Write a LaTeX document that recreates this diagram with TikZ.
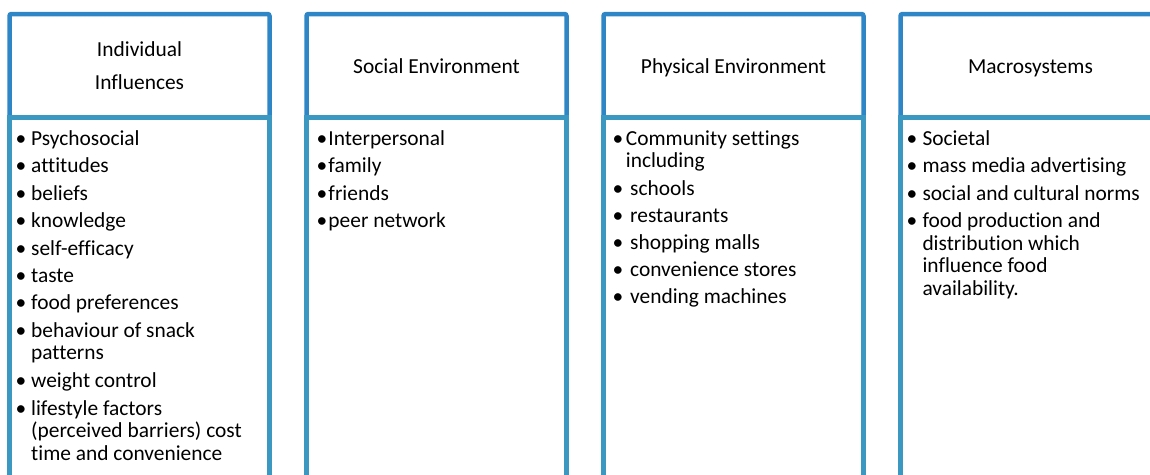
\documentclass[tikz,border=0pt]{standalone}
\usepackage{fontspec}
\setmainfont{Carlito}[Ligatures=NoCommon]
\newcommand\bul[1]{\llap{\makebox[0pt]{\textbullet}\hspace{#1}}}
\begin{document}
\begin{tikzpicture}[x=1pt,y=-1pt,
  hdbox/.style={draw=hdblue,fill=white,line width=4.5pt,rounded corners=2pt,
    minimum width=260pt,minimum height=103.5pt,inner sep=0pt,outer sep=0pt,
    align=center,font=\fontsize{21.4}{32.6}\selectfont,text height=15pt,text depth=0pt},
  bodyline/.style={draw=bdblue,line width=4.5pt},
  item/.style={anchor=base west,inner sep=0pt,align=left,
    font=\fontsize{21.4}{22.6}\selectfont}]
  \definecolor{hdblue}{HTML}{2E86C6}
  \definecolor{bdblue}{HTML}{3A98C1}
  \useasboundingbox (0,0) rectangle (1150,474);
  \clip (0,0) rectangle (1150,474);
  % headers
  \node [hdbox,text height=47.1pt] (ind) at (139.5,65.75) {Individual\\Influences};
  \node [hdbox] (soc) at (436.5,65.75) {Social Environment};
  \node [hdbox] (phy) at (733.5,65.75) {Physical Environment};
  \node [hdbox] (mac) at (1030.5,65.75) {Macrosystems};
  % bodies
  \draw [bodyline] (ind.south west) ++(0,380) -- (ind.south west) -- (ind.south east) -- ++(0,380);
  \draw [bodyline] (soc.south west) ++(0,380) -- (soc.south west) -- (soc.south east) -- ++(0,380);
  \draw [bodyline] (phy.south west) ++(0,380) -- (phy.south west) -- (phy.south east) -- ++(0,380);
  \draw [bodyline] (mac.south west) ++(0,380) -- (mac.south west) -- (mac.south east) -- ++(0,380);
  % individual (multi-line items sit on their last baseline)
  \node [item] (ind1) at (31,145) {\bul{10.3pt}Psychosocial};
  \node [item] (ind2) at (31,172.5) {\bul{10.3pt}attitudes};
  \node [item] (ind3) at (31,200) {\bul{10.3pt}beliefs};
  \node [item] (ind4) at (31,227.5) {\bul{10.3pt}knowledge};
  \node [item] (ind5) at (31,255) {\bul{10.3pt}self-efficacy};
  \node [item] (ind6) at (31,282) {\bul{10.3pt}taste};
  \node [item] (ind7) at (31,309.5) {\bul{10.3pt}food preferences};
  \node [item] (ind8) at (31,359.6) {\bul{10.3pt}behaviour of snack\\patterns};
  \node [item] (ind9) at (31,387.5) {\bul{10.3pt}weight control};
  \node [item] (ind10) at (31,460.2) {\bul{10.3pt}lifestyle factors\\(perceived barriers) cost\\time and convenience};
  % social
  \node [item] (soc1) at (328.3,145) {\bul{6.6pt}Interpersonal};
  \node [item] (soc2) at (328.3,172.5) {\bul{6.6pt}family};
  \node [item] (soc3) at (328.3,200) {\bul{6.6pt}friends};
  \node [item] (soc4) at (328.3,227.5) {\bul{6.6pt}peer network};
  % physical
  \node [item] (phy1) at (625.7,167.6) {\bul{8pt}Community settings\\including};
  \node [item] (phy2) at (630,195) {\bul{12.3pt}schools};
  \node [item] (phy3) at (630,222) {\bul{12.3pt}restaurants};
  \node [item] (phy4) at (630,249) {\bul{12.3pt}shopping malls};
  \node [item] (phy5) at (630,276.5) {\bul{12.3pt}convenience stores};
  \node [item] (phy6) at (630,303.5) {\bul{12.3pt}vending machines};
  % macro
  \node [item] (mac1) at (922.3,145) {\bul{10.6pt}Societal};
  \node [item] (mac2) at (922.3,172.5) {\bul{10.6pt}mass media advertising};
  \node [item] (mac3) at (922.3,200) {\bul{10.6pt}social and cultural norms};
  \node [item] (mac4) at (922.3,295.3) {\bul{10.6pt}food production and\\distribution which\\influence food\\availability.};
\end{tikzpicture}
\end{document}
